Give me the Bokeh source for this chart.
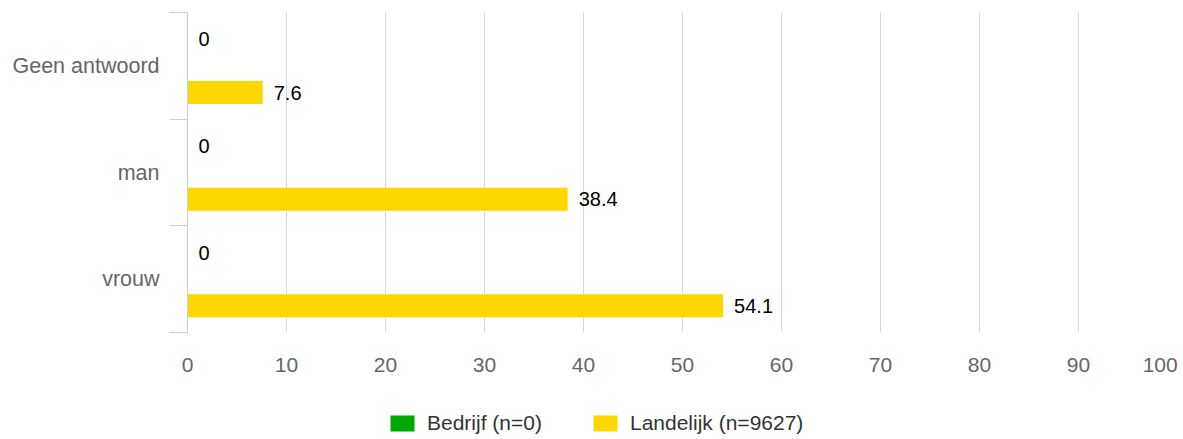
from bokeh.plotting import figure
from bokeh.models import (ColumnDataSource, Range1d, LinearAxis,
                          FixedTicker, Legend, LegendItem)
from bokeh.layouts import column
from bokeh.core.properties import value
from bokeh.embed import file_html
from bokeh.resources import INLINE

# ---- data ----
categories = ["Geen antwoord", "man", "vrouw"]
bedrijf = [0, 0, 0]
landelijk = [7.6, 38.4, 54.1]
series_names = ["Bedrijf (n=0)", "Landelijk (n=9627)"]
series_colors = ["#00A800", "#FFD700"]
x_ticks = [0, 10, 20, 30, 40, 50, 60, 70, 80, 90, 100]

FONT = "Liberation Sans"
n = len(categories)
# category slot centers, first category at the top
centers = [n - 1 - i + 0.5 for i in range(n)]

src = ColumnDataSource(dict(
    yb=[c + 0.25 for c in centers],
    yl=[c - 0.25 for c in centers],
    bedrijf=bedrijf,
    landelijk=landelijk,
    bedrijf_lbl=[f"{v:g}" for v in bedrijf],
    landelijk_lbl=[f"{v:g}" for v in landelijk],
))

p = figure(width=1183, height=395, output_backend="svg", toolbar_location=None,
           y_range=Range1d(0, n), x_range=Range1d(0, 100),
           y_axis_location=None,
           frame_width=990, frame_height=320,
           min_border_left=187, min_border_right=6, min_border_top=12, min_border_bottom=63)
p.outline_line_color = None
p.background_fill_color = "white"

# boundary ticks / axis line on the left
bounds = list(range(n + 1))
bax = LinearAxis(ticker=FixedTicker(ticks=bounds),
                 major_tick_out=18, major_tick_in=0, minor_tick_line_color=None,
                 major_tick_line_color="#C0D0E0", axis_line_color="#C0D0E0",
                 major_label_text_font_size="0px", major_label_standoff=0,
                 major_label_overrides={float(b): "" for b in bounds})
p.add_layout(bax, "left")
cax = LinearAxis(ticker=FixedTicker(ticks=centers),
                 major_tick_line_color=None, minor_tick_line_color=None, axis_line_color=None,
                 major_tick_out=0, major_tick_in=0,
                 major_label_overrides={float(c): lab for c, lab in zip(centers, categories)},
                 major_label_standoff=10, major_label_text_font_size="21.5px",
                 major_label_text_font=FONT, major_label_text_color="#666666")
p.add_layout(cax, "left")

# x axis
p.xaxis.ticker = FixedTicker(ticks=x_ticks)
p.xaxis.major_label_overrides = {100.0: "100" + "\u00a0"}
p.xaxis.axis_line_color = None
p.xaxis.major_tick_line_color = None
p.xaxis.minor_tick_line_color = None
p.xaxis.major_tick_out = 0
p.xaxis.major_label_standoff = 20
p.xaxis.major_label_text_font_size = "21px"
p.xaxis.major_label_text_font = FONT
p.xaxis.major_label_text_color = "#666666"

p.xgrid.grid_line_color = "#D8D8D8"
p.xgrid.ticker = FixedTicker(ticks=x_ticks)
p.ygrid.grid_line_color = None

bh = 0.215
p.hbar(y="yb", right="bedrijf", left=0, height=bh,
       source=src, fill_color=series_colors[0], line_color=None)
p.hbar(y="yl", right="landelijk", left=0, height=bh,
       source=src, fill_color=series_colors[1], line_color=None)

p.text(x="bedrijf", y="yb", text="bedrijf_lbl", source=src,
       x_offset=11, text_align="left", text_baseline="middle",
       text_font=value(FONT), text_font_size="20px", text_color="#000000")
p.text(x="landelijk", y="yl", text="landelijk_lbl", source=src,
       x_offset=11, text_align="left", text_baseline="middle",
       text_font=value(FONT), text_font_size="20px", text_color="#000000")

# ---- legend strip below the chart (swatch glyphs sit outside its visible range) ----
lg = figure(width=1183, height=44, output_backend="svg", toolbar_location=None,
            x_range=Range1d(0, 1), y_range=Range1d(0, 1),
            x_axis_location=None, y_axis_location=None, min_border=0)
lg.outline_line_color = None
lg.grid.grid_line_color = None
sw1 = lg.hbar(y=[-5], right=[1], left=0, height=0.5, fill_color=series_colors[0], line_color=None)
sw2 = lg.hbar(y=[-5], right=[1], left=0, height=0.5, fill_color=series_colors[1], line_color=None)

legend = Legend(items=[LegendItem(label=series_names[0], renderers=[sw1]),
                       LegendItem(label=series_names[1], renderers=[sw2])],
                orientation="horizontal", location=(200, 4),
                glyph_width=30, glyph_height=20, label_standoff=10, spacing=48,
                padding=0, margin=0, border_line_color=None, background_fill_alpha=0,
                label_text_font=FONT, label_text_font_size="21px", label_text_color="#333333",
                label_height=20)
lg.add_layout(legend)

open("out.html", "w").write(file_html(column(p, lg, spacing=0), INLINE))
